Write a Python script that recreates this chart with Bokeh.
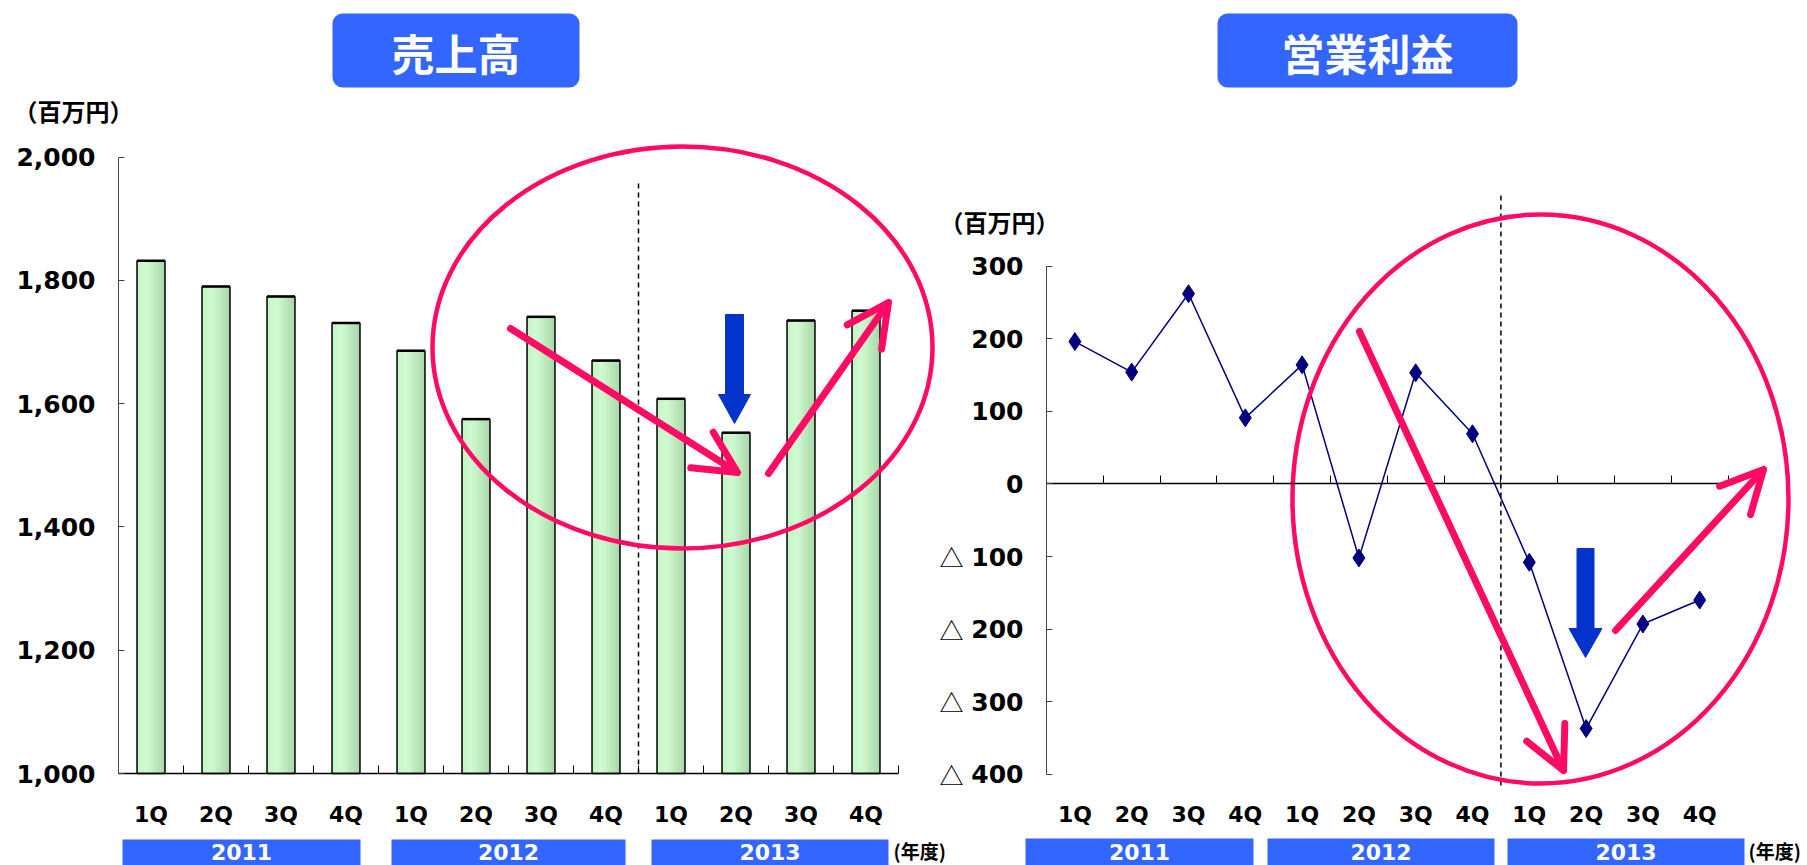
from bokeh.plotting import figure
from bokeh.models import (Range1d, LinearAxis, FixedTicker, NumeralTickFormatter,
                          Arrow, OpenHead, BoxAnnotation)
from bokeh.core.properties import value
from bokeh.embed import file_html
from bokeh.resources import INLINE

# ---------------- data ----------------
quarters = ["1Q", "2Q", "3Q", "4Q", "1Q", "2Q", "3Q", "4Q", "1Q", "2Q", "3Q", "4Q"]
years = ["2011", "2012", "2013"]
sales = [1832, 1790, 1774, 1731, 1686, 1575, 1741, 1670, 1608, 1553, 1735, 1751]
operating_income = [196, 154, 262, 91, 164, -102, 153, 69, -108, -337, -193, -160]
sales_ticks = [1000, 1200, 1400, 1600, 1800, 2000]
income_ticks = [-400, -300, -200, -100, 0, 100, 200, 300]
income_tick_labels = ["400", "300", "200", "100", "0", "100", "200", "300"]
negative_mark = "△"
titles = ["売上高", "営業利益"]
unit_label = "（百万円）"
year_unit_label = "(年度)"

idx = list(range(1, len(quarters) + 1))
bounds_ticks = [i + 0.5 for i in idx]

# ---------------- layout helpers (pixel -> data) ----------------
W, H = 1807, 865
NUM_FONT = "DejaVu Sans"
JP_FONT = "Noto Sans CJK JP"
PINK = "#ff0a64"
BLUE_BOX = "#3366ff"
ARROW_BLUE = "#0433cc"

AXL, CWL, Y1000, KL = 118.0, 65.0, 773.0, 0.6163


def lx(px):
    return 0.5 + (px - AXL) / CWL


def ly(py):
    return 1000 + (Y1000 - py) / KL


AXR, CWR, Y0R, KR = 1046.0, 56.8, 483.4, 0.726


def rx(px):
    return 0.5 + (px - AXR) / CWR


def ry(py):
    return (Y0R - py) / KR


p = figure(width=W, height=H, x_range=Range1d(lx(0), lx(W)), y_range=Range1d(ly(H), ly(0)),
           output_backend="svg", toolbar_location=None, min_border=0,
           x_axis_location=None, y_axis_location=None, outline_line_color=None,
           background_fill_color="white", border_fill_color="white")
p.extra_x_ranges = {"r": Range1d(rx(0), rx(W))}
p.extra_y_ranges = {"r": Range1d(ry(H), ry(0))}
p.xgrid.visible = False
p.ygrid.visible = False

L = dict()
R = dict(x_range_name="r", y_range_name="r")


def style_labels(ax, size):
    ax.major_label_text_font = NUM_FONT
    ax.major_label_text_font_style = "bold"
    ax.major_label_text_font_size = size
    ax.major_label_text_color = "black"


def title_box(fx, fy, rn, l, r, t, b, text):
    box = BoxAnnotation(left=fx(l), right=fx(r), top=fy(t), bottom=fy(b),
                        fill_color=BLUE_BOX, fill_alpha=1.0, line_color=None,
                        border_radius=10, level="underlay", **rn)
    p.add_layout(box)
    p.text(x=[fx((l + r) / 2)], y=[fy((t + b) / 2 + 1)], text=[text],
           text_align="center", text_baseline="middle", text_color="white",
           text_font=value(JP_FONT), text_font_style="bold", text_font_size="43px", **rn)


def year_boxes(fx, fy, rn, spans, top):
    for (l, r), yr in zip(spans, years):
        p.quad(left=[fx(l)], right=[fx(r)], top=[fy(top)], bottom=[fy(H + 10)],
               fill_color=BLUE_BOX, line_color=None, **rn)
        p.text(x=[fx((l + r) / 2)], y=[fy(851)], text=[yr], text_align="center",
               text_baseline="middle", text_color="white",
               text_font=value(NUM_FONT), text_font_style="bold", text_font_size="22px", **rn)


def jp_label(fx, fy, rn, x, y, text, size, align="left"):
    p.text(x=[fx(x)], y=[fy(y)], text=[text], text_align=align, text_baseline="middle",
           text_color="black", text_font=value(JP_FONT), text_font_style="bold",
           text_font_size=size, **rn)


def pink_arrow(fx, fy, rn, x0, y0, x1, y1):
    p.add_layout(Arrow(x_start=fx(x0), y_start=fy(y0), x_end=fx(x1), y_end=fy(y1),
                       line_color=PINK, line_width=7, line_cap="round",
                       end=OpenHead(size=42, line_color=PINK, line_width=7,
                                    line_cap="round", line_join="round"), **rn))


def blue_arrow(fx, fy, rn, cx, top, head_start, tip, sw, hw):
    xs = [cx - sw / 2, cx + sw / 2, cx + sw / 2, cx + hw / 2, cx, cx - hw / 2, cx - sw / 2]
    ys = [top, top, head_start, head_start, tip, head_start, head_start]
    p.patch([fx(v) for v in xs], [fy(v) for v in ys], fill_color=ARROW_BLUE,
            line_color=ARROW_BLUE, line_width=1, **rn)


# ================= left chart: 売上高 =================
BW = 0.43
N = 8
stops = [(0.0, (196, 244, 196)), (0.35, (208, 251, 208)), (1.0, (168, 214, 168))]


def grad(t):
    for (t0, c0), (t1, c1) in zip(stops[:-1], stops[1:]):
        if t0 <= t <= t1:
            f = (t - t0) / (t1 - t0)
            return "#%02x%02x%02x" % tuple(int(round(a + (b - a) * f)) for a, b in zip(c0, c1))
    return "#%02x%02x%02x" % stops[-1][1]


for k in range(N):
    left = [i - BW / 2 + k * BW / N for i in idx]
    right = [i + BW / 2 for i in idx]
    p.quad(left=left, right=right, top=sales, bottom=1000,
           fill_color=grad((k + 0.5) / N), line_color=None)
p.vbar(x=idx, top=sales, bottom=1000, width=BW, fill_color=None,
       line_color="black", line_width=1.5)
p.segment(x0=[i - BW / 2 for i in idx], x1=[i + BW / 2 for i in idx],
          y0=sales, y1=sales, line_color="black", line_width=2.5)

ya1 = LinearAxis(fixed_location=0.5, bounds=(1000, 2000),
                 ticker=FixedTicker(ticks=sales_ticks, minor_ticks=[]),
                 formatter=NumeralTickFormatter(format="0,0"))
ya1.axis_line_color = "#444444"
ya1.major_tick_line_color = "#444444"
ya1.major_tick_in = 6
ya1.major_tick_out = 0
ya1.minor_tick_line_color = None
ya1.major_label_standoff = 23
style_labels(ya1, "25px")
p.add_layout(ya1, "left")

xa1 = LinearAxis(fixed_location=1000, bounds=(0.5, 12.5),
                 ticker=FixedTicker(ticks=idx, minor_ticks=bounds_ticks),
                 major_label_overrides={i: q for i, q in zip(idx, quarters)})
xa1.axis_line_color = "black"
xa1.axis_line_width = 1.5
xa1.major_tick_line_color = None
xa1.major_tick_in = 0
xa1.major_tick_out = 0
xa1.minor_tick_in = 8
xa1.minor_tick_out = 0
xa1.minor_tick_line_color = "black"
xa1.major_label_standoff = 28
style_labels(xa1, "22px")
p.add_layout(xa1, "below")

p.segment(x0=[8.5], x1=[8.5], y0=[1000], y1=[ly(179)], line_color="black",
          line_width=1.5, line_dash="5 4")

title_box(lx, ly, L, 332, 579, 13, 87, titles[0])
jp_label(lx, ly, L, 13, 110, unit_label, "24px")
year_boxes(lx, ly, L, [(122, 360), (391, 625), (651, 888)], 839)
jp_label(lx, ly, L, 893, 850, year_unit_label, "19px")

p.ellipse(x=[lx(682)], y=[ly(347)], width=500 / CWL, height=402 / KL,
          fill_color=None, line_color=PINK, line_width=4.5)
blue_arrow(lx, ly, L, 734, 314, 394, 423, 18, 32)
pink_arrow(lx, ly, L, 510, 328, 737, 472)
pink_arrow(lx, ly, L, 768, 473, 888, 302)

# ================= right chart: 営業利益 =================
ya2 = LinearAxis(fixed_location=0.5, bounds=(-400, 300),
                 ticker=FixedTicker(ticks=income_ticks, minor_ticks=[]),
                 major_label_overrides={t: s for t, s in zip(income_ticks, income_tick_labels)},
                 **R)
ya2.axis_line_color = "#444444"
ya2.major_tick_line_color = "#444444"
ya2.major_tick_in = 6
ya2.major_tick_out = 0
ya2.minor_tick_line_color = None
ya2.major_label_standoff = 23
style_labels(ya2, "25px")
p.add_layout(ya2, "left")

# △ marks for negative values (drawn from the tick list)
neg = [t for t in income_ticks if t < 0]
p.text(x=[rx(951)] * len(neg), y=neg, text=[negative_mark] * len(neg),
       text_align="center", text_baseline="middle", text_color="black",
       text_font=value(JP_FONT), text_font_style="normal", text_font_size="24px", **R)

xa2 = LinearAxis(fixed_location=0, bounds=(0.5, 12.5),
                 ticker=FixedTicker(ticks=[], minor_ticks=bounds_ticks), **R)
xa2.axis_line_color = "black"
xa2.axis_line_width = 1.5
xa2.major_tick_line_color = None
xa2.major_label_text_color = None
xa2.minor_tick_in = 8
xa2.minor_tick_out = 0
xa2.minor_tick_line_color = "black"
p.add_layout(xa2, "below")

xl2 = LinearAxis(fixed_location=-400, bounds=(0.5, 12.5),
                 ticker=FixedTicker(ticks=idx, minor_ticks=[]),
                 major_label_overrides={i: q for i, q in zip(idx, quarters)}, **R)
xl2.axis_line_color = None
xl2.major_tick_line_color = None
xl2.major_tick_in = 0
xl2.major_tick_out = 0
xl2.minor_tick_line_color = None
xl2.major_label_standoff = 28
style_labels(xl2, "22px")
p.add_layout(xl2, "below")

p.segment(x0=[8.5], x1=[8.5], y0=[ry(785)], y1=[ry(193)], line_color="black",
          line_width=1.5, line_dash="5 4", **R)

p.line(idx, operating_income, line_color="#000080", line_width=1.5, **R)
p.scatter(idx, operating_income, marker="diamond", size=18,
          fill_color="#000080", line_color="#000080", **R)

title_box(rx, ry, R, 1217, 1517, 13, 87, titles[1])
jp_label(rx, ry, R, 939, 221, unit_label, "24px")
year_boxes(rx, ry, R, [(1025, 1253), (1267, 1494), (1507, 1744)], 838)
jp_label(rx, ry, R, 1748, 850, year_unit_label, "19px")

p.ellipse(x=[rx(1540)], y=[ry(498.5)], width=496 / CWR, height=569 / KR,
          fill_color=None, line_color=PINK, line_width=4.5, **R)
blue_arrow(rx, ry, R, 1585, 548, 628, 657, 17, 33)
pink_arrow(rx, ry, R, 1359, 331, 1563, 770)
pink_arrow(rx, ry, R, 1615, 630, 1763, 469)

open("out.html", "w").write(file_html(p, INLINE))
